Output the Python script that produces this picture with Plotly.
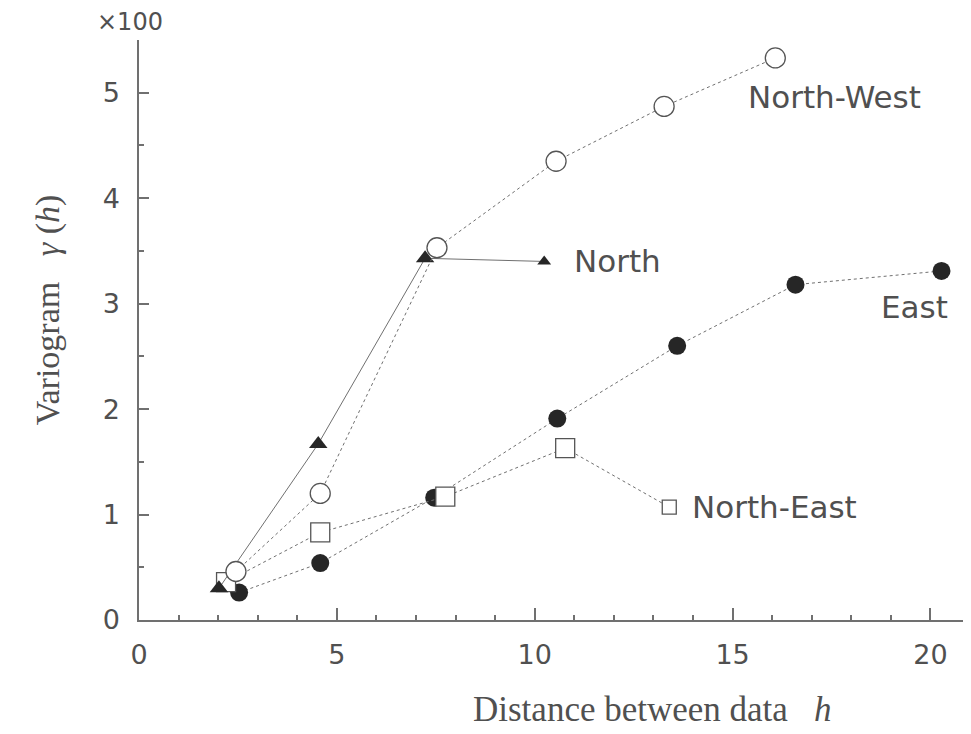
import plotly.graph_objects as go

# Data (gamma(h) in units of x100)
nw_h = [2.45, 4.58, 7.53, 10.54, 13.27, 16.08]
nw_g = [0.46, 1.20, 3.53, 4.35, 4.87, 5.33]

n_h = [2.02, 4.53, 7.23]
n_g = [0.30, 1.67, 3.43]

e_h = [2.53, 4.58, 7.46, 10.57, 13.60, 16.59, 20.28]
e_g = [0.26, 0.54, 1.16, 1.91, 2.60, 3.18, 3.31]

ne_h = [2.20, 4.58, 7.74, 10.77]
ne_g = [0.36, 0.83, 1.17, 1.63]

# key markers for labels (data coordinates)
n_key = (10.24, 3.40)
ne_key = (13.40, 1.07)

x_ticks = [0, 5, 10, 15, 20]
y_ticks = [0, 1, 2, 3, 4, 5]

INK = "#505050"
LINE = "#707070"
SANS = "DejaVu Sans, Arial, sans-serif"
SERIF = "Liberation Serif, Times New Roman, serif"

fig = go.Figure()

# connector lines to key markers
fig.add_trace(go.Scatter(x=[n_h[-1], n_key[0]], y=[n_g[-1], n_key[1]], mode="lines",
                         line=dict(color=LINE, width=1), showlegend=False, hoverinfo="skip"))
fig.add_trace(go.Scatter(x=[n_key[0]], y=[n_key[1]], mode="markers",
                         marker=dict(symbol="triangle-up", size=12, color="#262626", line=dict(width=0)),
                         showlegend=False, hoverinfo="skip"))
fig.add_trace(go.Scatter(x=[ne_h[-1], ne_key[0]], y=[ne_g[-1], ne_key[1]], mode="lines",
                         line=dict(color=LINE, width=1, dash="dot"), showlegend=False, hoverinfo="skip"))
fig.add_trace(go.Scatter(x=[ne_key[0]], y=[ne_key[1]], mode="markers",
                         marker=dict(symbol="square", size=14, color="white", line=dict(color="#555", width=1.3)),
                         showlegend=False, hoverinfo="skip"))

fig.add_trace(go.Scatter(x=e_h, y=e_g, mode="lines+markers", name="East",
                         line=dict(color=LINE, width=1, dash="dot"),
                         marker=dict(symbol="circle", size=18, color="#262626"),
                         showlegend=False))
fig.add_trace(go.Scatter(x=ne_h, y=ne_g, mode="lines+markers", name="North-East",
                         line=dict(color=LINE, width=1, dash="dot"),
                         marker=dict(symbol="square", size=19, color="white", line=dict(color="#555", width=1.3)),
                         showlegend=False))
fig.add_trace(go.Scatter(x=n_h, y=n_g, mode="lines+markers", name="North",
                         line=dict(color=LINE, width=1),
                         marker=dict(symbol="triangle-up", size=16, color="#262626"),
                         showlegend=False))
fig.add_trace(go.Scatter(x=nw_h, y=nw_g, mode="lines+markers", name="North-West",
                         line=dict(color=LINE, width=1, dash="dot"),
                         marker=dict(symbol="circle", size=20, color="white", line=dict(color="#555", width=1.3)),
                         showlegend=False))

ann_font = dict(family=SANS, size=31, color=INK)
fig.add_annotation(x=15.35, y=4.96, text="North-West", showarrow=False, xanchor="left", yanchor="middle",
                   font=ann_font)
fig.add_annotation(x=10.95, y=3.40, text="North", showarrow=False, xanchor="left", yanchor="middle",
                   font=ann_font)
fig.add_annotation(x=20.5, y=2.97, text="East", showarrow=False, xanchor="right", yanchor="middle",
                   font=ann_font)
fig.add_annotation(x=13.93, y=1.07, text="North-East", showarrow=False, xanchor="left", yanchor="middle",
                   font=ann_font)
fig.add_annotation(xref="paper", yref="paper", x=-0.011, y=1.031, text="×100", showarrow=False,
                   xanchor="center", yanchor="middle", font=dict(family=SANS, size=24, color=INK))

# axis titles
fig.add_annotation(xref="paper", yref="paper", x=-0.1095, y=0.534, text="Variogram   <i>γ</i> (<i>h</i>)",
                   showarrow=False, textangle=-90, xanchor="center", yanchor="middle",
                   font=dict(family=SERIF, size=34, color=INK))
fig.add_annotation(xref="paper", yref="paper", x=0.618, y=-0.155, text="Distance between data   <i>h</i>",
                   showarrow=False, xanchor="center", yanchor="middle",
                   font=dict(family=SERIF, size=35, color=INK))

# the page body has an 8px margin, so the figure is sized to fit the 971x734 window
fig.update_layout(
    width=963, height=726,
    margin=dict(l=131, r=1, t=32, b=114),
    paper_bgcolor="white", plot_bgcolor="white",
    xaxis=dict(range=[0, 21], tickvals=x_ticks, ticktext=[str(v) for v in x_ticks],
               automargin=False,
               showgrid=False, zeroline=False, showline=True, linecolor=LINE, linewidth=1.5,
               ticks="inside", ticklen=12, tickcolor=LINE, tickwidth=1.5,
               minor=dict(dtick=1, ticks="inside", ticklen=5, tickcolor=LINE),
               ticklabelstandoff=10,
               tickfont=dict(family=SANS, size=27, color=INK)),
    yaxis=dict(range=[0, 5.5], tickvals=y_ticks, ticktext=[str(v) for v in y_ticks],
               automargin=False,
               showgrid=False, zeroline=False, showline=True, linecolor=LINE, linewidth=1.5,
               ticks="inside", ticklen=10, tickcolor=LINE, tickwidth=1.5,
               minor=dict(dtick=0.5, ticks="inside", ticklen=5, tickcolor=LINE),
               ticklabelstandoff=12,
               tickfont=dict(family=SANS, size=27, color=INK)),
)

fig.write_html("out.html")
